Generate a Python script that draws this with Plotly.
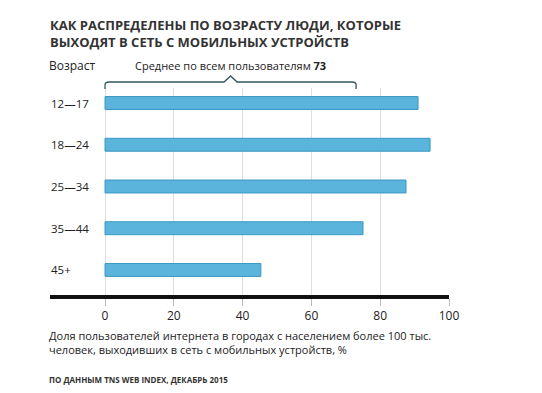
import plotly.graph_objects as go

categories = ["12—17", "18—24", "25—34", "35—44", "45+"]
values = [91, 94.5, 87.5, 75, 45.3]
mean_value = 73
x_ticks = [0, 20, 40, 60, 80, 100]
title_text = "КАК РАСПРЕДЕЛЕНЫ ПО ВОЗРАСТУ ЛЮДИ, КОТОРЫЕ<br>ВЫХОДЯТ В СЕТЬ С МОБИЛЬНЫХ УСТРОЙСТВ"
axis_caption = "Доля пользователей интернета в городах с населением более 100 тыс.<br>человек, выходивших в сеть с мобильных устройств, %"
source_text = "ПО ДАННЫМ TNS WEB INDEX, ДЕКАБРЬ 2015"
age_header = "Возраст"
mean_label = "Среднее по всем пользователям"

FONT = "Open Sans"
OFF = 8  # page body margin
W, H = 542 - OFF, 393 - OFF
PLOT_TOP, PLOT_BOTTOM = 88, 295  # screen px
L, R = 50 - OFF, 93
T, B = PLOT_TOP - OFF, 393 - PLOT_BOTTOM
plot_h = PLOT_BOTTOM - PLOT_TOP

def py(screen_y):
    return (PLOT_BOTTOM - screen_y) / plot_h

idx = list(range(len(categories)))

fig = go.Figure()
fig.add_trace(go.Bar(
    x=values, y=idx, orientation="h", width=0.31,
    marker=dict(color="#5ab4dc", line=dict(color="#3a98c4", width=1)),
    hoverinfo="skip",
))

# bracket over 0..mean
b_top = py(82)
b_bot = py(89)
caret = py(76)
mid = mean_value / 2
r = 1.2
path = (f"M 0,{b_bot} L 0,{py(85)} Q 0,{b_top} {r},{b_top} "
        f"L {mid-1.9},{b_top} L {mid},{caret} L {mid+1.9},{b_top} "
        f"L {mean_value-r},{b_top} Q {mean_value},{b_top} {mean_value},{py(85)} L {mean_value},{b_bot}")
fig.add_shape(type="path", xref="x", yref="paper", path=path,
              line=dict(color="#2f5662", width=1.3))

ann = []
for i, c in enumerate(categories):
    ann.append(dict(x=0, xref="paper", y=i, yref="y", text=c, showarrow=False,
                    xanchor="left", yanchor="middle", xshift=-1,
                    font=dict(family=FONT, size=11.5, color="#222")))
ann.append(dict(x=0, xref="paper", y=py(66), yref="paper", text=age_header, showarrow=False,
                xanchor="left", yanchor="middle", xshift=-3,
                font=dict(family=FONT, size=12, color="#222")))
ann.append(dict(x=mid, xref="x", y=py(66), yref="paper",
                text=f"{mean_label} <b>{mean_value}</b>", showarrow=False,
                xanchor="center", yanchor="middle",
                font=dict(family=FONT, size=11, color="#222")))
ann.append(dict(x=0, xref="paper", y=py(14), yref="paper", text=f"<b>{title_text}</b>",
                showarrow=False, xanchor="left", yanchor="top", align="left", xshift=-2,
                font=dict(family=FONT, size=13, color="#333")))
ann.append(dict(x=0, xref="paper", y=py(326), yref="paper", text=axis_caption,
                showarrow=False, xanchor="left", yanchor="top", align="left", xshift=-3,
                font=dict(family=FONT, size=11, color="#222")))
ann.append(dict(x=0, xref="paper", y=py(372), yref="paper", text=f"<b>{source_text}</b>",
                showarrow=False, xanchor="left", yanchor="top", align="left", xshift=-3,
                font=dict(family=FONT, size=8, color="#333")))

fig.update_layout(
    width=W, height=H, margin=dict(l=L, r=R, t=T, b=B),
    paper_bgcolor="white", plot_bgcolor="white",
    showlegend=False, annotations=ann,
    xaxis=dict(range=[-16, 100], tickvals=x_ticks, ticktext=[str(t) for t in x_ticks],
               showgrid=True, gridcolor="#dedede", gridwidth=1, zeroline=False,
               showline=True, linecolor="#111", linewidth=4,
               ticks="outside", ticklen=7, tickcolor="#bbb", tickwidth=1,
               tickfont=dict(family=FONT, size=12, color="#222"), fixedrange=True),
    yaxis=dict(range=[4.6, -0.36], showticklabels=False, showgrid=False,
               zeroline=False, showline=False, fixedrange=True),
)

fig.write_html("out.html")
